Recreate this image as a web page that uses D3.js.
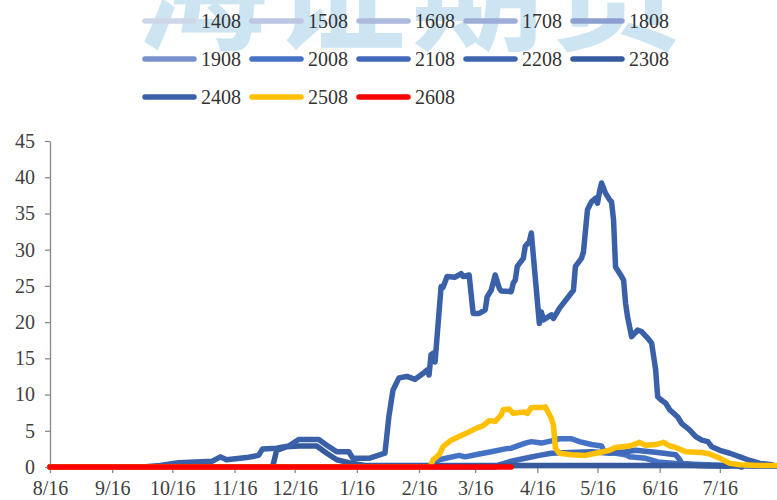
<!DOCTYPE html>
<html><head><meta charset="utf-8">
<script src="https://cdn.jsdelivr.net/npm/d3@7"></script>
<style>html,body{margin:0;padding:0;background:#fff;}svg{display:block;}</style>
</head><body>
<svg id="chart" width="777" height="500"></svg>
<script>
// ---------- data ----------
const seriesNames = ["1408","1508","1608","1708","1808","1908","2008","2108","2208","2308","2408","2508","2608"];
const seriesColors = ["#cfd5ea","#bdc6e3","#adb9dd","#9dadd7","#8ba0d1","#7891cb","#4472c4","#4169b9","#3d66ae","#355a9e","#3a60a8","#ffc000","#ff0000"];
const xTickLabels = ["8/16","9/16","10/16","11/16","12/16","1/16","2/16","3/16","4/16","5/16","6/16","7/16"];
const yTickValues = [0,5,10,15,20,25,30,35,40,45];

const s1408 = [], s1508 = [], s1608 = [], s1708 = [], s1808 = [], s1908 = [], s2208 = [];
const s2008 = [["8/16",0],["2/20",0],["2/22",0.3],["2/26",1.0],["3/8",1.6],["3/11",1.4],["3/18",1.8],["3/24",2.1],["3/31",2.5],["4/3",2.6],["4/10",3.3],["4/13",3.5],["4/18",3.3],["4/23",3.6],["4/27",3.9],["5/3",3.9],["5/7",3.5],["5/13",3.1],["5/18",2.9],["5/19",2.3],["5/23",2.0],["5/30",1.7],["6/1",1.4],["6/9",1.2],["6/15",0.7],["6/24",0.5],["7/10",0.3],["8/1",0.1],["8/13",0.1]];
const s2108 = [["8/16",0],["3/26",0],["3/28",0.3],["4/3",0.8],["4/10",1.2],["4/17",1.6],["4/23",1.9],["5/2",2.0],["5/13",2.1],["5/22",1.9],["5/30",2.1],["6/4",2.3],["6/15",2.0],["6/21",1.8],["6/24",1.7],["6/26",1.0],["6/27",0.5],["7/5",0.2],["7/20",0.1]];
const s2308 = [["8/16",0],["12/5",0],["12/7",2.3],["12/12",2.8],["12/18",2.9],["12/27",2.9],["1/1",1.9],["1/6",1.0],["1/12",0.6],["1/20",0.2],["3/1",0.2],["4/10",0.2],["5/20",0.2],["6/30",0.2],["7/25",0.15],["7/27",0]];
const s2408 = [["8/16",0],["10/1",0],["10/10",0.2],["10/19",0.6],["11/5",0.8],["11/9",1.4],["11/12",1.0],["11/22",1.3],["11/28",1.6],["11/30",2.5],["12/7",2.6],["12/13",2.9],["12/18",3.8],["12/28",3.8],["1/1",3.0],["1/6",2.1],["1/12",2.1],["1/14",1.2],["1/22",1.2],["1/30",1.9],["2/1",7.0],["2/3",10.6],["2/6",12.3],["2/10",12.5],["2/14",12.1],["2/18",12.9],["2/20",13.4],["2/21",12.7],["2/22",15.5],["2/23",15.7],["2/24",14.5],["2/27",24.9],["2/28",24.8],["3/2",26.3],["3/6",26.2],["3/9",26.7],["3/10",26.3],["3/13",26.5],["3/15",21.2],["3/18",21.2],["3/21",21.7],["3/22",23.5],["3/24",24.4],["3/26",26.5],["3/28",24.7],["3/29",24.3],["4/3",24.2],["4/4",25.4],["4/5",25.8],["4/6",27.7],["4/9",28.8],["4/10",30.5],["4/12",31.1],["4/13",32.3],["4/17",19.8],["4/18",21.4],["4/19",20.3],["4/23",21.0],["4/24",20.5],["4/27",21.9],["5/4",24.4],["5/5",27.7],["5/8",28.8],["5/9",29.7],["5/11",35.5],["5/13",36.6],["5/15",37.1],["5/16",36.4],["5/17",38.0],["5/18",39.2],["5/20",37.8],["5/22",36.9],["5/23",36.6],["5/24",34.1],["5/25",27.6],["5/28",26.3],["5/29",25.8],["5/30",22.6],["5/31",20.7],["6/2",18.0],["6/5",18.9],["6/7",18.7],["6/10",17.8],["6/12",17.1],["6/14",13.4],["6/15",9.7],["6/17",9.2],["6/19",8.8],["6/21",7.9],["6/25",6.9],["6/27",6.0],["7/1",5.1],["7/4",4.2],["7/7",3.7],["7/10",3.5],["7/12",2.8],["7/16",2.3],["7/21",1.9],["7/26",1.4],["7/31",0.9],["8/5",0.5],["8/11",0.3]];
const s2508 = [["8/16",0],["2/21",0],["2/22",0.3],["2/23",1.0],["2/26",1.7],["2/28",2.8],["3/4",3.7],["3/8",4.2],["3/11",4.6],["3/17",5.4],["3/20",5.7],["3/23",6.4],["3/26",6.3],["3/29",7.2],["3/30",7.9],["4/2",8.0],["4/4",7.4],["4/9",7.6],["4/11",7.4],["4/13",8.2],["4/18",8.2],["4/20",8.3],["4/23",6.7],["4/24",5.8],["4/25",2.6],["4/27",1.9],["5/3",1.7],["5/10",1.6],["5/17",2.0],["5/22",2.3],["5/25",2.7],["6/1",2.9],["6/6",3.4],["6/9",3.0],["6/14",3.1],["6/18",3.4],["6/21",2.9],["6/24",2.7],["6/29",2.1],["7/7",2.0],["7/11",1.8],["7/16",1.2],["7/21",0.5],["7/26",0.3],["8/5",0.2],["8/14",0.2]];
const s2608 = [["8/16",0],["10/16",0],["12/16",0],["2/16",0],["4/3",0]];
const seriesData = [s1408,s1508,s1608,s1708,s1808,s1908,s2008,s2108,s2208,s2308,s2408,s2508,s2608];

// ---------- helpers ----------
function parseMD(s){
  const [m,d] = s.split("/").map(Number);
  const yr = (m > 8 || (m === 8 && d >= 16)) ? 2022 : 2023;
  return new Date(yr, m-1, d);
}

const svg = d3.select("#chart");
const plotLeft = 50, plotRight = 778, plotTop = 141, plotBottom = 467;

// watermark
svg.append("text")
  .attr("x", 412).attr("y", 40)
  .attr("text-anchor", "middle")
  .attr("font-family", "'Noto Sans CJK SC', sans-serif")
  .attr("font-weight", "bold")
  .attr("font-size", 132)
  .attr("letter-spacing", 6)
  .attr("fill", "#cde5f3")
  .text("海证期货");

const x = d3.scaleTime()
  .domain([parseMD("8/16"), new Date(2023, 7, 14)])
  .range([plotLeft, plotRight]);
const y = d3.scaleLinear().domain([0, 45]).range([plotBottom, plotTop]);

const fontFam = "'Liberation Serif', 'DejaVu Serif', serif";

// y axis
const yAxis = svg.append("g")
  .attr("transform", `translate(${plotLeft},0)`)
  .call(d3.axisLeft(y).tickValues(yTickValues).tickSize(5).tickSizeOuter(0).tickPadding(10));
yAxis.select(".domain").attr("stroke", "#898989").attr("stroke-width", 1.3);
yAxis.selectAll(".tick line").attr("stroke", "#898989").attr("stroke-width", 1.3);
yAxis.selectAll(".tick text").attr("font-family", fontFam).attr("font-size", 20).attr("fill", "#404040");

// x axis
const xAxis = svg.append("g")
  .attr("transform", `translate(0,${plotBottom})`)
  .call(d3.axisBottom(x).tickValues(xTickLabels.map(parseMD))
    .tickFormat((d, i) => xTickLabels[i]).tickSize(6).tickSizeOuter(0).tickPadding(8));
xAxis.select(".domain").attr("stroke", "#898989").attr("stroke-width", 1.3);
xAxis.selectAll(".tick line").attr("stroke", "#898989").attr("stroke-width", 1.3);
xAxis.selectAll(".tick text").attr("font-family", fontFam).attr("font-size", 20).attr("fill", "#404040");

// lines
const line = d3.line()
  .x(d => x(parseMD(d[0])))
  .y(d => y(d[1]));
const gLines = svg.append("g");
seriesData.forEach((data, i) => {
  if (!data.length) return;
  gLines.append("path")
    .attr("d", line(data))
    .attr("fill", "none")
    .attr("stroke", seriesColors[i])
    .attr("stroke-width", 5.5)
    .attr("stroke-linejoin", "round")
    .attr("stroke-linecap", "round");
});

// legend
const legend = svg.append("g");
const colX = [142, 249, 356, 463, 570];
const rowY = [21, 59, 97];
seriesNames.forEach((name, i) => {
  const cx = colX[i % 5], cy = rowY[Math.floor(i / 5)];
  legend.append("line")
    .attr("x1", cx + 3).attr("x2", cx + 52)
    .attr("y1", cy).attr("y2", cy)
    .attr("stroke", seriesColors[i])
    .attr("stroke-width", 5.5)
    .attr("stroke-linecap", "round");
  legend.append("text")
    .attr("x", cx + 59).attr("y", cy + 7)
    .attr("font-family", fontFam)
    .attr("font-size", 20)
    .attr("fill", "#333")
    .text(name);
});
</script>
</body></html>
